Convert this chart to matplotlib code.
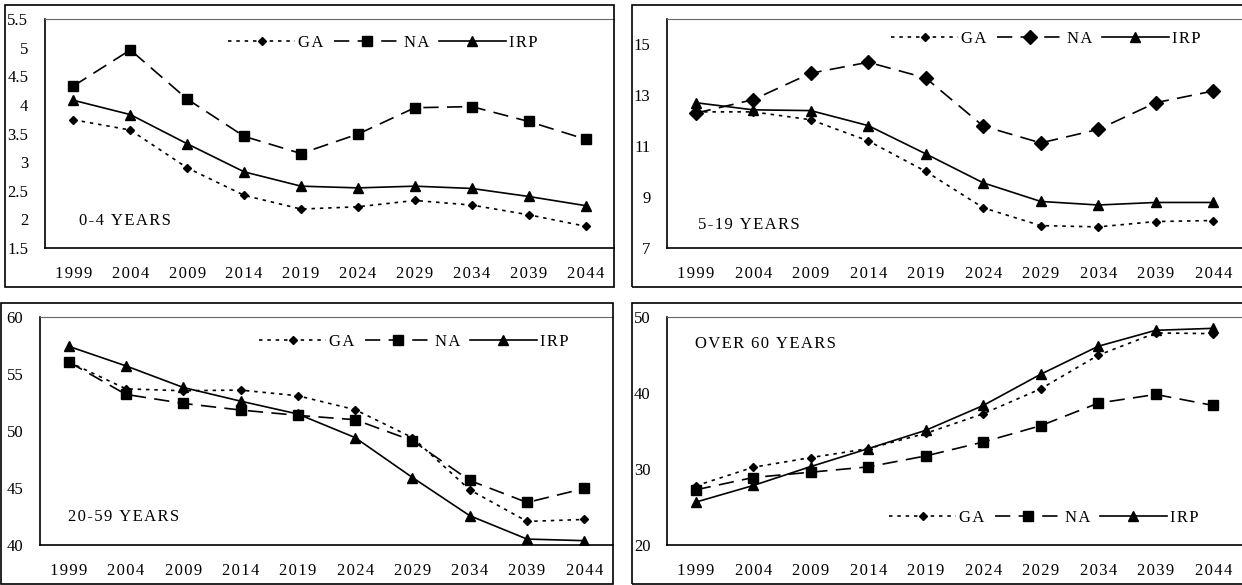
import matplotlib
matplotlib.use('Agg')
import matplotlib.pyplot as plt
import matplotlib.patches as patches
from matplotlib.ticker import FuncFormatter

plt.rcParams['font.family'] = ['Liberation Serif', 'DejaVu Serif']
plt.rcParams['lines.scale_dashes'] = False

years = ['1999', '2004', '2009', '2014', '2019', '2024', '2029', '2034', '2039', '2044']

# 0-4 years
ga_04 = [3.74, 3.56, 2.90, 2.42, 2.18, 2.22, 2.33, 2.25, 2.08, 1.88]
na_04 = [4.33, 4.96, 4.10, 3.45, 3.15, 3.49, 3.95, 3.97, 3.71, 3.40]
irp_04 = [4.08, 3.83, 3.32, 2.83, 2.58, 2.55, 2.58, 2.54, 2.40, 2.24]

# 5-19 years
ga_519 = [12.35, 12.35, 12.04, 11.21, 10.01, 8.58, 7.88, 7.83, 8.04, 8.08]
na_519 = [12.30, 12.83, 13.87, 14.30, 13.68, 11.79, 11.13, 11.66, 12.71, 13.17]
irp_519 = [12.71, 12.43, 12.40, 11.81, 10.70, 9.56, 8.83, 8.69, 8.79, 8.79]

# 20-59 years
ga_2059 = [56.06, 53.70, 53.53, 53.59, 53.09, 51.87, 49.42, 44.84, 42.07, 42.24]
na_2059 = [56.06, 53.21, 52.42, 51.84, 51.37, 50.99, 49.15, 45.66, 43.73, 44.96]
irp_2059 = [57.43, 55.71, 53.82, 52.62, 51.49, 49.42, 45.92, 42.57, 40.52, 40.38]

# over 60 years
ga_60 = [27.78, 30.23, 31.50, 32.68, 34.69, 37.27, 40.55, 44.97, 47.90, 47.81]
na_60 = [27.26, 28.88, 29.58, 30.28, 31.72, 33.55, 35.70, 38.67, 39.81, 38.36]
irp_60 = [25.64, 27.83, 30.32, 32.68, 35.09, 38.36, 42.47, 46.15, 48.25, 48.51]

W, H = 1242, 585
fig = plt.figure(figsize=(W / 100, H / 100), dpi=100)

def spaced(s):
    # the original text is letter-spaced, hair spaces mimic that
    return '\u200a'.join(s)

def fig_box(l, t, r, b):
    return [l / W, 1 - b / H, (r - l) / W, (b - t) / H]

def frame(l, t, r, b):
    rect = patches.Rectangle((l / W, 1 - b / H), (r - l) / W, (b - t) / H,
                             transform=fig.transFigure, fill=False,
                             edgecolor='black', linewidth=1.2)
    fig.add_artist(rect)

def panel(box, outer, ga, na, irp, ylim, yticks, label, label_xy, legend_xy, na_marker='s', na_ms=6.5):
    frame(*outer)
    ax = fig.add_axes(fig_box(*box))
    x = list(range(len(years)))
    ax.plot(x, ga, color='black', lw=1.2, dashes=(2.5, 3.5), marker='D', ms=4.5, label=spaced('GA'))
    ax.plot(x, na, color='black', lw=1.2, dashes=(11, 6), marker=na_marker, ms=na_ms, label=spaced('NA'))
    ax.plot(x, irp, color='black', lw=1.2, marker='^', ms=6.5, label=spaced('IRP'))
    ax.set_xlim(-0.5, len(years) - 0.5)
    ax.set_ylim(*ylim)
    ax.set_xticks(x)
    ax.set_xticklabels([spaced(y) for y in years])
    ax.set_yticks(yticks)
    ax.yaxis.set_major_formatter(FuncFormatter(lambda v, p: '%g' % v))
    ax.tick_params(axis='both', length=0, labelsize=12)
    ax.tick_params(axis='x', pad=13)
    ax.tick_params(axis='y', pad=12)
    ax.spines['right'].set_visible(False)
    ax.spines['top'].set_color('#666666')
    ax.spines['left'].set_linewidth(1.2)
    ax.spines['bottom'].set_linewidth(1.2)
    ax.patch.set_visible(False)
    ax.text(label_xy[0] / W, 1 - label_xy[1] / H, spaced(label), transform=fig.transFigure,
            fontsize=12, ha='left', va='center')
    ax.legend(loc='center', bbox_to_anchor=(legend_xy[0] / W, 1 - legend_xy[1] / H),
              bbox_transform=fig.transFigure, ncol=3, frameon=False, fontsize=12,
              handlelength=4, handletextpad=0.2, columnspacing=0.6, numpoints=1)
    return ax

panel((45, 19, 614, 248), (5, 5, 614, 287), ga_04, na_04, irp_04,
      (1.5, 5.5), [1.5, 2, 2.5, 3, 3.5, 4, 4.5, 5, 5.5],
      '0-4 YEARS', (79, 221), (383, 43))
panel((667, 19, 1242, 248), (632, 5, 1245, 287), ga_519, na_519, irp_519,
      (7, 16), [7, 9, 11, 13, 15],
      '5-19 YEARS', (698, 225), (1046, 39), na_marker='D', na_ms=7.5)
panel((40, 317, 613, 545), (1, 303, 613, 584), ga_2059, na_2059, irp_2059,
      (40, 60), [40, 45, 50, 55, 60],
      '20-59 YEARS', (68, 517), (414, 342))
panel((667, 317, 1242, 545), (632, 303, 1245, 584), ga_60, na_60, irp_60,
      (20, 50), [20, 30, 40, 50],
      'OVER 60 YEARS', (695, 344), (1044, 518))

fig.savefig('out.png', dpi=100)
